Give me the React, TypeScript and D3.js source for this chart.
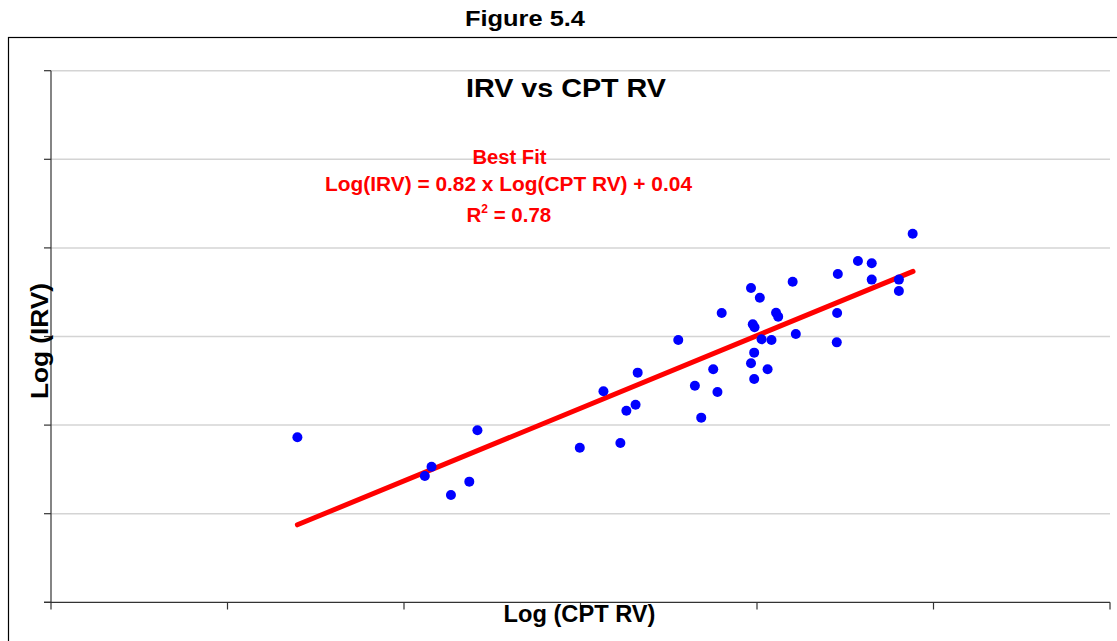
import React from "react";
import * as d3 from "d3";

const cptRV = [
  0.698, 1.059, 1.078, 1.133, 1.185, 1.208, 1.498, 1.565, 1.613, 1.63, 1.656,
  1.662, 1.777, 1.824, 1.842, 1.876, 1.888, 1.9, 1.983, 2.008, 1.988, 1.993,
  1.992, 1.983, 1.992, 2.013, 2.041, 2.03, 2.054, 2.06, 2.101, 2.11, 2.229,
  2.286, 2.325, 2.325, 2.402, 2.402, 2.441, 2.227, 2.226,
];
const irv = [
  1.106, 0.888, 0.94, 0.781, 0.856, 1.146, 1.047, 1.366, 1.074, 1.256, 1.29,
  1.471, 1.655, 1.397, 1.217, 1.49, 1.362, 1.808, 1.949, 1.894, 1.744, 1.727,
  1.584, 1.524, 1.435, 1.659, 1.655, 1.49, 1.809, 1.787, 1.984, 1.689, 2.028,
  2.101, 2.088, 1.996, 1.996, 1.932, 2.255, 1.808, 1.642,
];
const xTicks = [0, 0.5, 1, 1.5, 2, 2.5, 3];
const yTicks = [0.175, 0.675, 1.175, 1.675, 2.175, 2.675, 3.175];
const fitSlope = 0.82;
const fitIntercept = 0.04;
const fitRange = [0.698, 2.442];

const FONT = "Arial, 'Liberation Sans', sans-serif";

export default function App() {
  const x = d3.scaleLinear().domain([0, 3]).range([51, 1110]);
  const y = d3.scaleLinear().domain([0.175, 3.175]).range([602.3, 70.7]);
  const fitPts: [number, number][] = fitRange.map((v) => [v, fitSlope * v + fitIntercept]);
  const line = d3
    .line<[number, number]>()
    .x((d) => x(d[0]))
    .y((d) => y(d[1]));
  const pts = cptRV.map((v, i) => [v, irv[i]]);

  return (
    <svg
      width={1117}
      height={641}
      style={{ position: "fixed", left: 0, top: 0, background: "#fff" }}
    >
      <rect x={0} y={0} width={1117} height={641} fill="#fff" />
      <rect x={8.5} y={37.5} width={1200} height={700} fill="#fff" stroke="#000" strokeWidth={1.2} />
      <text
        x={525}
        y={25.7}
        textAnchor="middle"
        fontFamily={FONT}
        fontWeight="bold"
        fontSize={22}
        textLength={120}
        lengthAdjust="spacingAndGlyphs"
      >
        Figure 5.4
      </text>
      {/* gridlines */}
      {yTicks.slice(1).map((t) => (
        <line key={"g" + t} x1={51} x2={1110} y1={y(t)} y2={y(t)} stroke="#d4d4d4" strokeWidth={1.5} />
      ))}
      {/* y axis */}
      <line x1={51} x2={51} y1={y(yTicks[yTicks.length - 1])} y2={602.3} stroke="#333" strokeWidth={1.2} />
      {yTicks.map((t) => (
        <line key={"yt" + t} x1={44} x2={51} y1={y(t)} y2={y(t)} stroke="#333" strokeWidth={1.2} />
      ))}
      {/* x axis */}
      <line x1={44} x2={1110} y1={602.3} y2={602.3} stroke="#333" strokeWidth={1.2} />
      {xTicks.map((t) => (
        <line key={"xt" + t} x1={x(t)} x2={x(t)} y1={602.3} y2={609.5} stroke="#333" strokeWidth={1.2} />
      ))}
      {/* fit line */}
      <path d={line(fitPts) || ""} stroke="#ff0000" strokeWidth={5} fill="none" strokeLinecap="round" />
      {/* points */}
      {pts.map((p, i) => (
        <circle key={i} cx={x(p[0])} cy={y(p[1])} r={5} fill="#0000ff" />
      ))}
      <text
        x={566}
        y={96.7}
        textAnchor="middle"
        fontFamily={FONT}
        fontWeight="bold"
        fontSize={26}
        textLength={200}
        lengthAdjust="spacingAndGlyphs"
      >
        IRV vs CPT RV
      </text>
      <text
        x={509.5}
        y={164}
        textAnchor="middle"
        fontFamily={FONT}
        fontWeight="bold"
        fontSize={20}
        fill="#ff0000"
        textLength={74}
        lengthAdjust="spacingAndGlyphs"
      >
        Best Fit
      </text>
      <text
        x={508.5}
        y={190.5}
        textAnchor="middle"
        fontFamily={FONT}
        fontWeight="bold"
        fontSize={20.5}
        fill="#ff0000"
        textLength={367}
        lengthAdjust="spacingAndGlyphs"
      >
        Log(IRV) = 0.82 x Log(CPT RV) + 0.04
      </text>
      <text x={466.5} y={221.7} fontFamily={FONT} fontWeight="bold" fontSize={20.5} fill="#ff0000">
        R
        <tspan fontSize={12} dy={-9}>
          2
        </tspan>
        <tspan dy={9}> = 0.78</tspan>
      </text>
      <text
        x={579.5}
        y={621.7}
        textAnchor="middle"
        fontFamily={FONT}
        fontWeight="bold"
        fontSize={24}
        textLength={152}
        lengthAdjust="spacingAndGlyphs"
      >
        Log (CPT RV)
      </text>
      <text
        transform="translate(48.3,341) rotate(-90)"
        textAnchor="middle"
        fontFamily={FONT}
        fontWeight="bold"
        fontSize={24.5}
        textLength={116}
        lengthAdjust="spacingAndGlyphs"
      >
        Log (IRV)
      </text>
    </svg>
  );
}
